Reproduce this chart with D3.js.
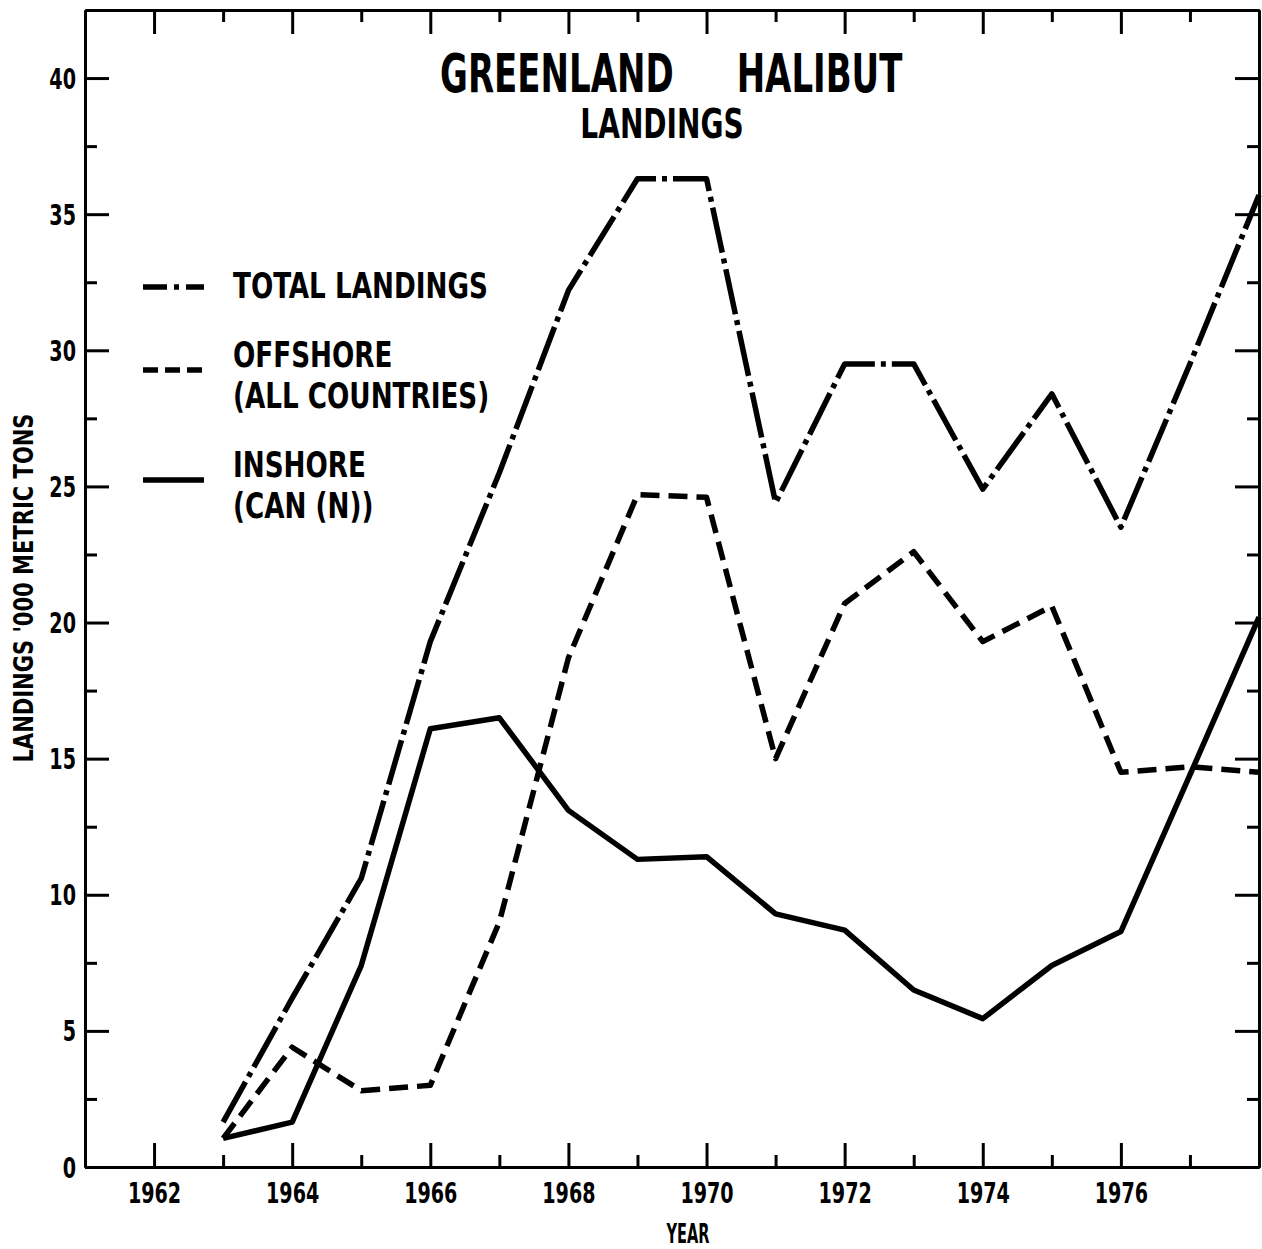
<!DOCTYPE html>
<html>
<head>
<meta charset="utf-8">
<script src="https://cdn.jsdelivr.net/npm/d3@7"></script>
<style>
  html, body { margin: 0; padding: 0; background: #fff; }
  svg { display: block; }
  text { font-family: "DejaVu Sans", sans-serif; font-stretch: condensed; font-weight: bold; fill: #000; }
</style>
</head>
<body>
<svg id="chart" width="1262" height="1249"></svg>
<script>
// Greenland halibut landings, thousand metric tons
const years    = [1963, 1964, 1965, 1966, 1967, 1968, 1969, 1970, 1971, 1972, 1973, 1974, 1975, 1976, 1977, 1978];
const total    = [1.65, 6.2, 10.6, 19.3, 25.5, 32.2, 36.3, 36.3, 24.4, 29.5, 29.5, 24.9, 28.4, 23.5, 29.5, 35.7];
const offshore = [1.05, 4.4, 2.8, 3.0, 9.0, 18.7, 24.7, 24.6, 15.0, 20.7, 22.6, 19.3, 20.6, 14.5, 14.7, 14.5];
const inshore  = [1.05, 1.65, 7.4, 16.1, 16.5, 13.1, 11.3, 11.4, 9.3, 8.7, 6.5, 5.45, 7.4, 8.65, 14.4, 20.2];

const xMajorTicks = [1962, 1964, 1966, 1968, 1970, 1972, 1974, 1976];
const xMinorTicks = [1963, 1965, 1967, 1969, 1971, 1973, 1975, 1977];
const yMajorTicks = [0, 5, 10, 15, 20, 25, 30, 35, 40];
const yMinorTicks = [2.5, 7.5, 12.5, 17.5, 22.5, 27.5, 32.5, 37.5];

const seriesNames = ["TOTAL LANDINGS", "OFFSHORE", "INSHORE"];
const seriesSub   = [null, "(ALL COUNTRIES)", "(CAN (N))"];

const svg = d3.select("#chart");
const plotLeft = 85, plotRight = 1259, plotTop = 10, plotBottom = 1167;

const x = d3.scaleLinear().domain([1961, 1978]).range([plotLeft, plotRight]);
const y = d3.scaleLinear().domain([0, 42.5]).range([plotBottom, plotTop]);

const MAJ = 24, MIN = 12;

// narrow lettering: horizontal squeeze applied around the anchor point
function label(parent, px, py, str, size, sx, anchor, rotate) {
  return parent.append("text")
    .attr("transform", `translate(${px},${py})${rotate ? ` rotate(${rotate})` : ""} scale(${sx},1)`)
    .attr("text-anchor", anchor || "start")
    .attr("font-size", size)
    .text(str);
}

// frame axes with inward ticks
function drawAxis(axisFn, scale, ticks, size, pos, labels) {
  const g = svg.append("g")
    .attr("transform", pos)
    .call(axisFn(scale).tickValues(ticks).tickSize(size).tickSizeOuter(0)
      .tickFormat(labels ? d3.format("d") : () => ""));
  g.attr("font-family", null).attr("font-size", null);
  g.select(".domain").attr("stroke", "#000").attr("stroke-width", 3);
  g.selectAll(".tick line").attr("stroke", "#000").attr("stroke-width", 3);
  return g;
}

const TICK_SX = 0.76;
// bottom
const xb = drawAxis(d3.axisBottom, x, xMajorTicks, -MAJ, `translate(0,${plotBottom})`, true);
xb.selectAll(".tick text")
  .attr("x", 0).attr("y", 16).attr("dy", "0.71em").attr("font-size", 28)
  .attr("transform", `scale(${TICK_SX},1)`);
drawAxis(d3.axisBottom, x, xMinorTicks, -MIN, `translate(0,${plotBottom})`, false);
// top
drawAxis(d3.axisTop, x, xMajorTicks, -MAJ, `translate(0,${plotTop})`, false);
drawAxis(d3.axisTop, x, xMinorTicks, -MIN, `translate(0,${plotTop})`, false);
// left
const yl = drawAxis(d3.axisLeft, y, yMajorTicks, -MAJ, `translate(${plotLeft},0)`, true);
yl.selectAll(".tick text")
  .attr("x", -9 / TICK_SX).attr("dy", "0.36em").attr("font-size", 28)
  .attr("transform", `scale(${TICK_SX},1)`);
drawAxis(d3.axisLeft, y, yMinorTicks, -MIN, `translate(${plotLeft},0)`, false);
// right
drawAxis(d3.axisRight, y, yMajorTicks, -MAJ, `translate(${plotRight},0)`, false);
drawAxis(d3.axisRight, y, yMinorTicks, -MIN, `translate(${plotRight},0)`, false);
svg.selectAll(".tick text").attr("fill", "#000");

// series lines
const styles = [
  { data: total,    dash: "46,6,5,6" },
  { data: offshore, dash: "19,9" },
  { data: inshore,  dash: null }
];
const line = d3.line().x((d, i) => x(years[i])).y(d => y(d));
styles.forEach(s => {
  svg.append("path")
    .datum(s.data)
    .attr("d", line)
    .attr("fill", "none")
    .attr("stroke", "#000")
    .attr("stroke-width", 5.5)
    .attr("stroke-linejoin", "round")
    .attr("stroke-dasharray", s.dash);
});

// titles
const title = label(svg, 440, 92, "GREENLAND", 54, 0.70);
title.append("tspan").attr("dx", 90).text("HALIBUT");
label(svg, 662, 138, "LANDINGS", 41, 0.76, "middle");

// axis titles
label(svg, 688, 1243, "YEAR", 27, 0.6, "middle");
label(svg, 33, 588, "LANDINGS '000 METRIC TONS", 26, 0.9, "middle", -90);

// legend
const legY = [287, 370, 480];
const legend = svg.append("g");
styles.forEach((s, i) => {
  legend.append("line")
    .attr("x1", 143).attr("x2", 204).attr("y1", legY[i]).attr("y2", legY[i])
    .attr("stroke", "#000").attr("stroke-width", 5.5)
    .attr("stroke-dasharray", i === 0 ? "24,7,5,7" : (i === 1 ? "15,7" : null));
  if (seriesSub[i]) {
    label(legend, 233, legY[i] - 3, seriesNames[i], 36, 0.81);
    label(legend, 233, legY[i] + 38, seriesSub[i], 36, 0.81);
  } else {
    label(legend, 233, legY[i] + 11, seriesNames[i], 36, 0.81);
  }
});
</script>
</body>
</html>
